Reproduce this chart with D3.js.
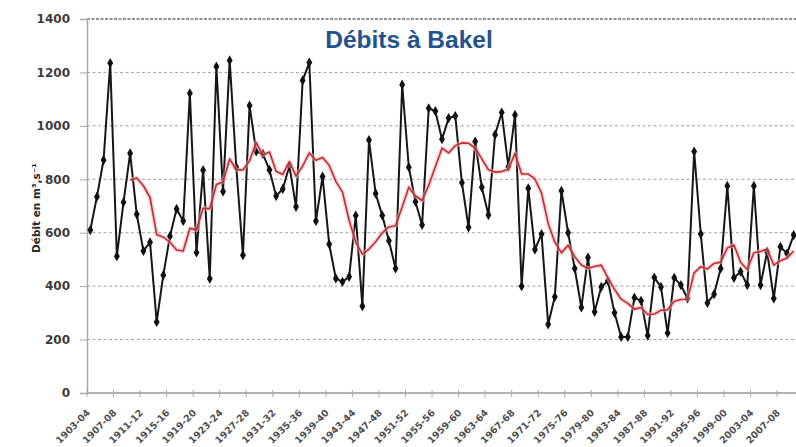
<!DOCTYPE html>
<html>
<head>
<meta charset="utf-8">
<script src="https://cdn.jsdelivr.net/npm/d3@7/dist/d3.min.js"></script>
<style>
  html, body { margin: 0; padding: 0; background: #fff; }
  svg { display: block; }
</style>
</head>
<body>
<svg id="chart" width="796" height="447"></svg>
<script>
// Hydrological years at the Bakel gauge
const seasons = [
  "1903-04","1904-05","1905-06","1906-07","1907-08","1908-09","1909-10","1910-11","1911-12","1912-13",
  "1913-14","1914-15","1915-16","1916-17","1917-18","1918-19","1919-20","1920-21","1921-22","1922-23",
  "1923-24","1924-25","1925-26","1926-27","1927-28","1928-29","1929-30","1930-31","1931-32","1932-33",
  "1933-34","1934-35","1935-36","1936-37","1937-38","1938-39","1939-40","1940-41","1941-42","1942-43",
  "1943-44","1944-45","1945-46","1946-47","1947-48","1948-49","1949-50","1950-51","1951-52","1952-53",
  "1953-54","1954-55","1955-56","1956-57","1957-58","1958-59","1959-60","1960-61","1961-62","1962-63",
  "1963-64","1964-65","1965-66","1966-67","1967-68","1968-69","1969-70","1970-71","1971-72","1972-73",
  "1973-74","1974-75","1975-76","1976-77","1977-78","1978-79","1979-80","1980-81","1981-82","1982-83",
  "1983-84","1984-85","1985-86","1986-87","1987-88","1988-89","1989-90","1990-91","1991-92","1992-93",
  "1993-94","1994-95","1995-96","1996-97","1997-98","1998-99","1999-00","2000-01","2001-02","2002-03",
  "2003-04","2004-05","2005-06","2006-07","2007-08","2008-09","2009-10"
];

// Mean annual discharge (m3/s)
const discharge = [
  610, 735, 872, 1235, 512, 714, 897, 669, 532, 564,
  266, 441, 587, 689, 644, 1122, 526, 834, 428, 1222,
  754, 1245, 845, 516, 1076, 904, 895, 835, 737, 764,
  850, 697, 1170, 1237, 644, 810, 557, 429, 416, 435,
  664, 325, 947, 747, 664, 570, 466, 1154, 845, 716,
  629, 1066, 1055, 950, 1029, 1037, 787, 620, 941, 770,
  666, 967, 1050, 847, 1041, 400, 766, 537, 595, 257,
  360, 757, 600, 466, 320, 507, 304, 397, 420, 300,
  210, 210, 357, 345, 215, 432, 397, 225, 431, 404,
  354, 904, 595, 337, 370, 466, 775, 431, 454, 404,
  775, 404, 529, 354, 547, 522, 591
];

const yTicks = [0, 200, 400, 600, 800, 1000, 1200, 1400];
const labelEvery = 4;          // one axis label every 4 seasons
const movingPeriod = 7;        // trailing moving-average trendline

const svg = d3.select("#chart");
const plot = { left: 87, right: 797, top: 19, bottom: 393 };

const x = d3.scaleBand().domain(seasons).range([plot.left, plot.right]).padding(0);
const y = d3.scaleLinear().domain([0, 1400]).range([plot.bottom, plot.top]);
const cx = s => x(s) + x.bandwidth() / 2;

// Horizontal grid
svg.append("g").selectAll("line")
  .data(yTicks.filter(v => v > 0))
  .join("line")
  .attr("x1", plot.left).attr("x2", 796)
  .attr("y1", d => y(d)).attr("y2", d => y(d))
  .attr("stroke", d => d === 1400 ? "#6e6e6e" : "#a3a3a3")
  .attr("stroke-width", d => d === 1400 ? 1.4 : 1)
  .attr("stroke-dasharray", d => d === 1400 ? "3,1.5" : "3,2.5");

// Y axis
const yAxis = d3.axisLeft(y).tickValues(yTicks).tickFormat(d3.format("d")).tickSize(7).tickPadding(10);
const gy = svg.append("g").attr("transform", `translate(${plot.left},0)`).call(yAxis);
gy.select(".domain").attr("stroke", "#a8a8a8").attr("stroke-width", 1.5);
gy.selectAll(".tick line").attr("stroke", "#a8a8a8");
gy.selectAll(".tick text")
  .attr("font-family", "DejaVu Sans, Verdana, sans-serif")
  .attr("font-size", 12)
  .attr("font-weight", "bold")
  .attr("fill", "#3c3c3c");

// X axis: ticks between categories, every 4 seasons
const tickIdx = d3.range(0, seasons.length, labelEvery);
const gx = svg.append("g");
gx.append("line")
  .attr("x1", plot.left).attr("x2", 796)
  .attr("y1", plot.bottom).attr("y2", plot.bottom)
  .attr("stroke", "#b3b3b3").attr("stroke-width", 2);
gx.selectAll("line.tk")
  .data(tickIdx)
  .join("line").attr("class", "tk")
  .attr("x1", i => x(seasons[i])).attr("x2", i => x(seasons[i]))
  .attr("y1", plot.bottom - 3).attr("y2", plot.bottom + 4)
  .attr("stroke", "#a8a8a8").attr("stroke-width", 1);
gx.selectAll("text")
  .data(tickIdx)
  .join("text")
  .attr("transform", i => `translate(${cx(seasons[i]) - 2},${plot.bottom + 18}) rotate(-45)`)
  .attr("text-anchor", "end")
  .attr("dy", "0.35em")
  .attr("font-family", "DejaVu Sans, Verdana, sans-serif")
  .attr("font-size", 9.5)
  .attr("font-weight", "bold")
  .attr("fill", "#505050")
  .text(i => seasons[i]);

// Y axis title
svg.append("text")
  .attr("transform", "translate(40,208) rotate(-90)")
  .attr("text-anchor", "middle")
  .attr("font-family", "DejaVu Sans, Verdana, sans-serif")
  .attr("font-size", 10.5)
  .attr("font-weight", "bold")
  .attr("fill", "#2a2a2a")
  .text("Débit en m³,s⁻¹");

// Annual discharge series
const pts = seasons.map((s, i) => ({ s, v: discharge[i] }));
const line = d3.line().x(d => cx(d.s)).y(d => y(d.v));

svg.append("path")
  .datum(pts)
  .attr("fill", "none")
  .attr("stroke", "#161616")
  .attr("stroke-width", 2)
  .attr("stroke-linejoin", "round")
  .attr("d", line);

svg.append("g").selectAll("path")
  .data(pts)
  .join("path")
  .attr("transform", d => `translate(${cx(d.s)},${y(d.v)})`)
  .attr("d", d3.symbol().type(d3.symbolDiamond).size(30))
  .attr("fill", "#111");

// Trailing moving-average trendline over the series
const trend = pts.slice(movingPeriod - 1).map((d, k) => ({
  s: d.s,
  v: d3.mean(discharge.slice(k, k + movingPeriod))
}));
svg.append("path")
  .datum(trend)
  .attr("fill", "none")
  .attr("stroke", "#f0b4b8")
  .attr("stroke-opacity", 0.55)
  .attr("stroke-width", 4.5)
  .attr("stroke-linejoin", "round")
  .attr("d", line);
svg.append("path")
  .datum(trend)
  .attr("fill", "none")
  .attr("stroke", "#c62a33")
  .attr("stroke-width", 1.6)
  .attr("stroke-linejoin", "round")
  .attr("d", line);

// Title
svg.append("text")
  .attr("x", 409).attr("y", 48)
  .attr("text-anchor", "middle")
  .attr("font-family", "Liberation Sans, Arial, sans-serif")
  .attr("font-size", 24.5)
  .attr("font-weight", "bold")
  .attr("fill", "#24528e")
  .text("Débits à Bakel");
</script>
</body>
</html>
